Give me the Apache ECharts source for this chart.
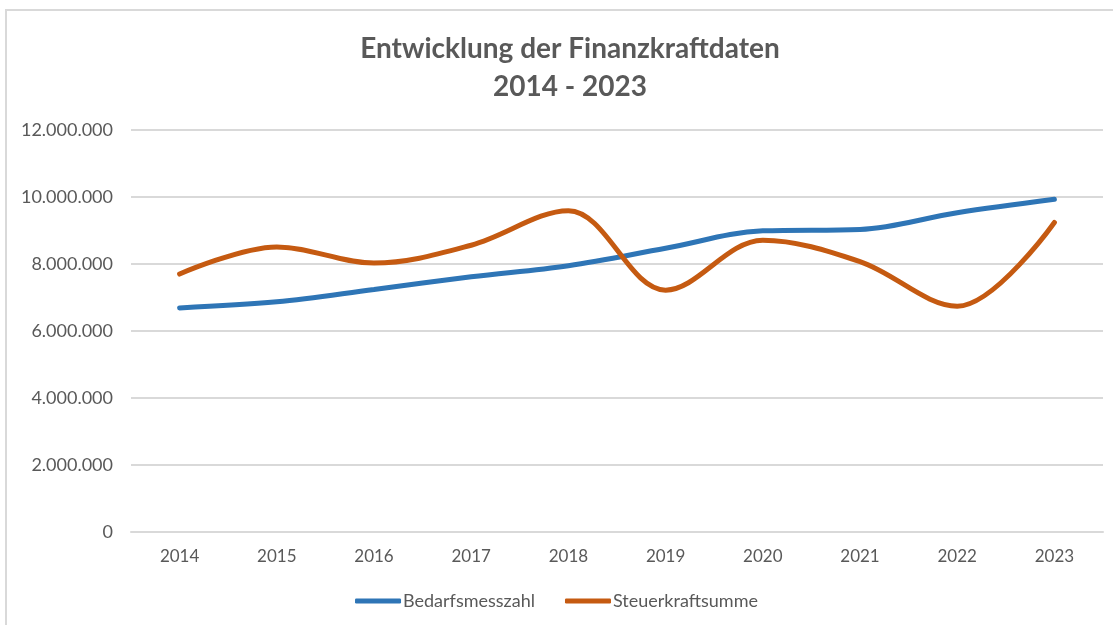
<!DOCTYPE html>
<html><head><meta charset="utf-8">
<script src="https://cdn.jsdelivr.net/npm/echarts@6/dist/echarts.min.js"></script>
<style>html,body{margin:0;padding:0;background:#fff}#c{width:1113px;height:625px}</style>
</head><body><div id="c"></div>
<script>
const years = ['2014','2015','2016','2017','2018','2019','2020','2021','2022','2023'];
const bedarfsmesszahl = [6690000, 6870000, 7240000, 7620000, 7950000, 8470000, 8990000, 9030000, 9530000, 9930000];
const steuerkraftsumme = [7700000, 8510000, 8030000, 8560000, 9590000, 7220000, 8710000, 8070000, 6740000, 9240000];
const seriesNames = ['Bedarfsmesszahl', 'Steuerkraftsumme'];
const titleLines = ['Entwicklung der Finanzkraftdaten', '2014 - 2023'];

const chart = echarts.init(document.getElementById('c'));
const fmt = v => String(Math.round(v)).replace(/\B(?=(\d{3})+(?!\d))/g, '.');
chart.setOption({
  animation: false,
  graphic: [{type:'rect', shape:{x:6,y:10,width:1120,height:640}, style:{fill:'none', stroke:'#d9d9d9', lineWidth:2}, silent:true}],
  title: {
    text: titleLines.join('\n'), left: 565, top: 25, textAlign: 'center',
    textStyle: {fontFamily:'Lato', fontWeight:'bold', fontSize:28, color:'#595959', lineHeight:38}
  },
  legend: {
    data: seriesNames, bottom: 10, left: 'center', itemWidth: 46, itemHeight: 5, itemGap: 30,
    icon: 'roundRect',
    textStyle: {fontFamily:'Lato', fontSize:18, color:'#595959', padding:[0,0,0,-3]}
  },
  grid: {left: 131, right: 10, top: 130, bottom: 93},
  xAxis: {
    type: 'category', data: years, boundaryGap: true,
    axisLine: {show:true, lineStyle:{color:'#d9d9d9', width:2}},
    axisTick: {show:false},
    axisLabel: {fontFamily:'Lato', fontSize:17, color:'#595959', margin:16}
  },
  yAxis: {
    type: 'value', min: 0, max: 12000000, interval: 2000000,
    axisLine: {show:false}, axisTick: {show:false},
    splitLine: {lineStyle:{color:'#d9d9d9', width:2}},
    axisLabel: {fontFamily:'Lato', fontSize:18, color:'#595959', margin:18, formatter: fmt}
  },
  series: [
    {name: seriesNames[0], type:'line', data: bedarfsmesszahl, smooth: 0.35, showSymbol:false,
     lineStyle:{width:5, color:'#2E75B6', cap:'round'}, itemStyle:{color:'#2E75B6'}},
    {name: seriesNames[1], type:'line', data: steuerkraftsumme, smooth: 0.35, showSymbol:false,
     lineStyle:{width:5, color:'#C55A11', cap:'round'}, itemStyle:{color:'#C55A11'}}
  ]
});
</script></body></html>
